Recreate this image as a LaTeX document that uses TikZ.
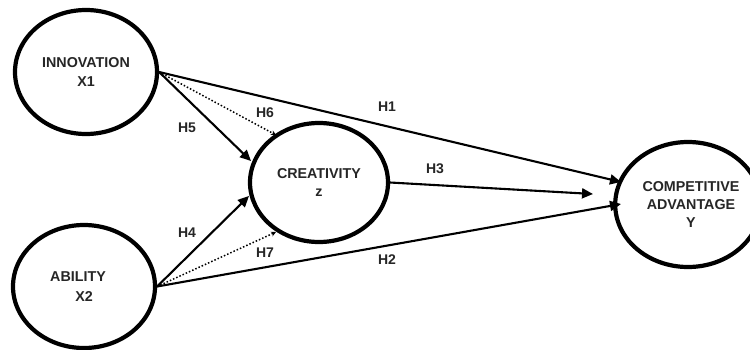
\documentclass[tikz,border=0pt]{standalone}
\usepackage{fontspec}
\setmainfont{Liberation Sans}
\usetikzlibrary{shapes.geometric,arrows.meta}
\begin{document}
\begin{tikzpicture}[x=1pt,y=-1pt,
  latent/.style={draw=black,line width=4.2pt,ellipse,inner sep=0pt,align=center,
    font=\fontsize{14.3}{19.5}\selectfont\bfseries,text=black!85},
  lbl/.style={font=\fontsize{14}{16}\selectfont\bfseries,text=black!85,inner sep=0pt},
  solidarrow/.style={line width=2.1pt,-{Triangle[length=11pt,width=10pt]}},
  dotarrow/.style={line width=1.5pt,dotted,-{Stealth[length=5pt,width=5pt,line width=0.8pt]}}]
\useasboundingbox (0,0) rectangle (750,349);
\fill[white] (0,0) rectangle (750,349);
\node[latent,minimum width=142pt,minimum height=124pt] (inn) at (86,72) {INNOVATION\\X1};
\node[latent,minimum width=142pt,minimum height=123pt] (abi) at (84,286.5) {ABILITY\hspace*{12pt}\\X2};
\node[latent,minimum width=138pt,minimum height=119pt,font=\fontsize{14.3}{18.5}\selectfont\bfseries] (cre) at (319,182.5) {CREATIVITY\\z};
\node[latent,minimum width=129pt,minimum height=125pt,font=\fontsize{14.3}{18}\selectfont\bfseries] (com) at (688,204.5) {\hspace*{6pt}COMPETITIVE\\\hspace*{6pt}ADVANTAGE\\\hspace*{6pt}Y};
\coordinate (t1) at (621,182);
\coordinate (t2) at (621,204);
\coordinate (t3) at (593,194);
\coordinate (t5) at (251,161);
\coordinate (t6) at (276,135);
\coordinate (t4) at (249,196);
\coordinate (t7) at (276,232);
\draw[solidarrow] (inn.east) -- (t1);
\draw[solidarrow] (abi.east) -- (t2);
\draw[solidarrow] (cre.east) -- (t3);
\draw[solidarrow] (inn.east) -- (t5);
\draw[solidarrow] (abi.east) -- (t4);
\draw[dotarrow] (inn.east) -- (t6);
\draw[dotarrow] (abi.east) -- (t7);
\node[lbl] (h1) at (387,107) {H1};
\node[lbl] (h3) at (435,169) {H3};
\node[lbl] (h2) at (387,260) {H2};
\node[lbl] (h5) at (187,128) {H5};
\node[lbl] (h6) at (265,113) {H6};
\node[lbl] (h4) at (187,233) {H4};
\node[lbl] (h7) at (265,253) {H7};
\end{tikzpicture}
\end{document}
